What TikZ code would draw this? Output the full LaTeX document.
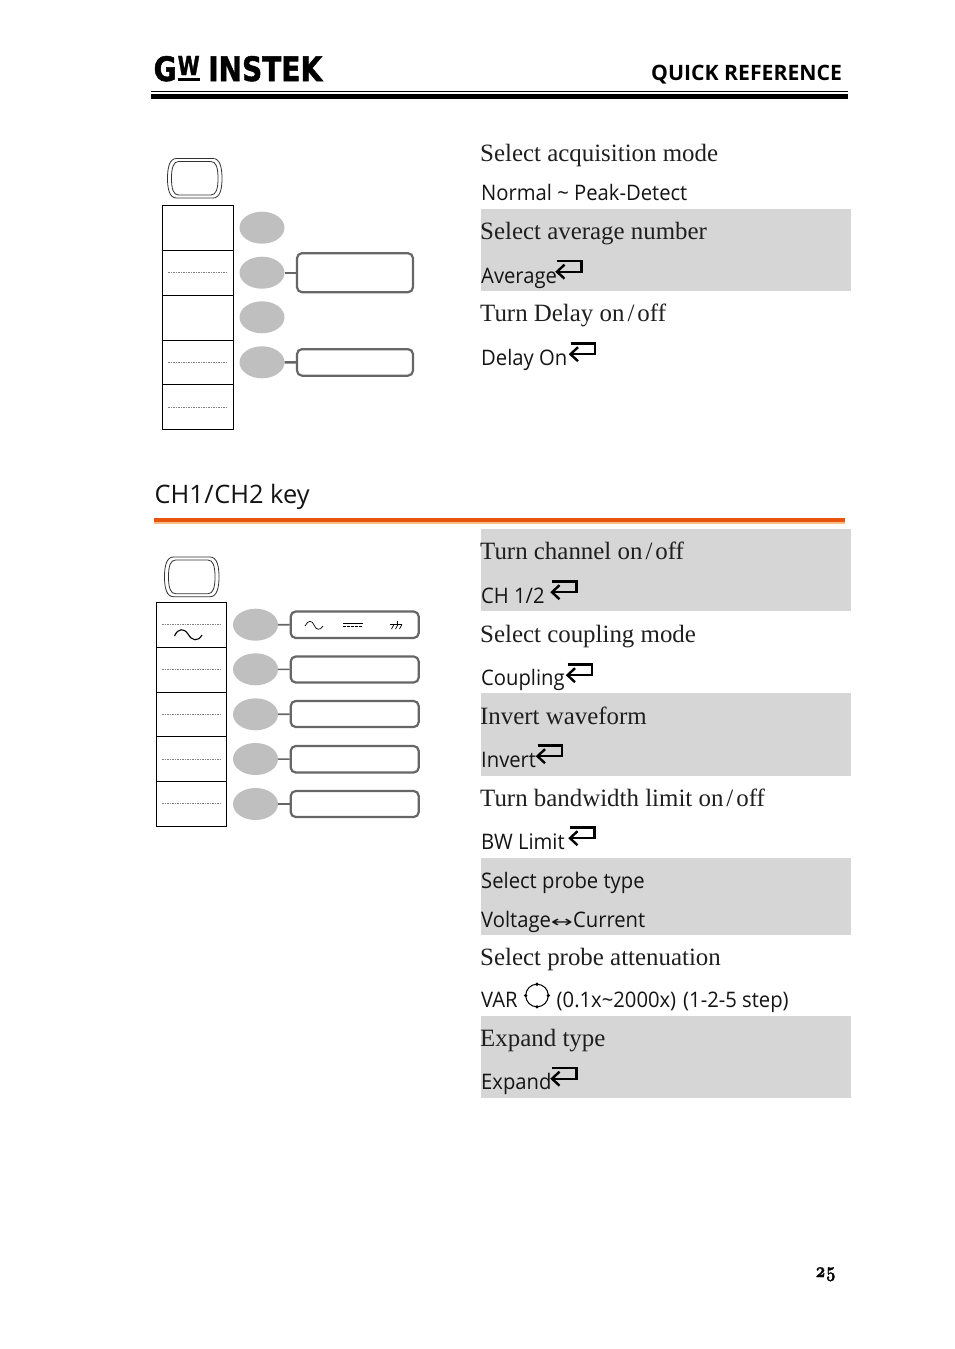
\documentclass[tikz,border=0pt]{standalone}
\usepackage{fontspec}
\usepackage{graphicx}
\setmainfont{Liberation Serif}
\newfontfamily\uisans{Open Sans}
\newfontfamily\uisansnarrow[FakeStretch=0.945]{Open Sans}
\newfontfamily\symfont{DejaVu Sans}
\newfontfamily\logofont[FakeBold=1.6]{DejaVu Sans Bold}
\newfontfamily\pagefont[Numbers=OldStyle,FakeStretch=0.8,FakeBold=1.2]{Latin Modern Roman}
\usetikzlibrary{arrows.meta,shapes.geometric}
\definecolor{band}{gray}{0.84}
\definecolor{keygray}{gray}{0.75}
\definecolor{boxgray}{gray}{0.40}
\definecolor{rulehot}{HTML}{E9540D}
\definecolor{rulepale}{HTML}{F9BC84}
\tikzset{
  x=1pt,y=-1pt,
  serifline/.style={anchor=base west,inner sep=0pt,font=\fontsize{24.9}{27}\selectfont,text=black!88},
  sansline/.style={anchor=base west,inner sep=0pt,font=\uisansnarrow\fontsize{21.4}{24}\selectfont,text=black!92},
  bandrect/.style={fill=band,draw=none},
  softkey/.style={ellipse,fill=keygray,draw=none,minimum width=45pt,minimum height=32pt,inner sep=0pt},
  menucell/.style={rectangle,draw=black,line width=1pt,minimum width=70.5pt,inner sep=0pt},
  optbox/.style={rectangle,rounded corners=5pt,draw=boxgray,line width=2.2pt,inner sep=0pt},
  link/.style={draw=boxgray,line width=1.6pt},
  rule/.style={draw=gray,line width=.7pt,dash pattern=on 1.5pt off 1pt},
  enterarrow/.style={line width=2.4pt,draw=black},
  keyoutline/.style={draw=black!80,line width=.8pt,fill=none}
}
\newcommand{\enterkey}[2]{%
  \draw[enterarrow,line join=miter] (#1+1,#2) -- (#1+25.5,#2) -- (#1+25.5,#2+10.7) -- (#1+1,#2+10.7);
  \draw[enterarrow,line join=miter] (#1+8.5,#2+3.7) -- (#1+1,#2+10.7) -- (#1+8.5,#2+17.7);
}
\newcommand{\frontkey}[4]{%
  \draw[keyoutline] (#1+9,#2) -- (#3-9,#2) .. controls (#3-2,#2) and (#3,#2+9) .. (#3,#2+20)
    .. controls (#3,#4-9) and (#3-2,#4) .. (#3-9,#4) -- (#1+9,#4)
    .. controls (#1+2,#4) and (#1,#4-9) .. (#1,#2+20) .. controls (#1,#2+9) and (#1+2,#2) .. (#1+9,#2) -- cycle;
  \draw[keyoutline] (#1+11,#2+3) -- (#3-11,#2+3) .. controls (#3-6,#2+3) and (#3-4,#2+9) .. (#3-4,#2+20)
    .. controls (#3-4,#4-9) and (#3-6,#4-3) .. (#3-11,#4-3) -- (#1+11,#4-3)
    .. controls (#1+6,#4-3) and (#1+4,#4-9) .. (#1+4,#2+20) .. controls (#1+4,#2+9) and (#1+6,#2+3) .. (#1+11,#2+3) -- cycle;
}
\newcommand{\onoff}{on\kern3pt/\kern3pt off}
\begin{document}
\begin{tikzpicture}
\useasboundingbox (0,0) rectangle (954,1349);
\fill[white] (0,0) rectangle (954,1349);

% header
\node[anchor=base west,inner sep=0pt] (logog) at (153.5,81) {\resizebox{23pt}{25pt}{\logofont G}};
\node[anchor=base west,inner sep=0pt] (logow) at (177.5,75) {\resizebox{22pt}{19pt}{\logofont W}};
\fill[black] (177.5,77.5) rectangle (199.5,81);
\node[anchor=base west,inner sep=0pt] (logob) at (208,81) {\resizebox{114pt}{25pt}{\logofont INSTEK}};
\node[anchor=base west,inner sep=0pt,font=\uisans\bfseries\fontsize{21.2}{24}\selectfont] (qr) at (651,80.5) {QUICK REFERENCE};
\fill[black] (151,90.6) rectangle (848,91.6);
\fill[black] (151,93.8) rectangle (848,99);

% bands
\fill[bandrect] (481,209) rectangle (851,291);
\fill[bandrect] (481,529) rectangle (851,611);
\fill[bandrect] (481,693) rectangle (851,776);
\fill[bandrect] (481,858) rectangle (851,935);
\fill[bandrect] (481,1016) rectangle (851,1098);

% upper panel
\frontkey{167.5}{158.5}{222}{198}
\foreach \n/\a/\b in {1/205.7/250.3,2/250.3/295.3,3/295.3/340.3,4/340.3/384.3,5/384.3/429.3}{
  \node[menucell,minimum height=\b pt-\a pt] (um\n) at (198,{(\a+\b)/2}) {};
}
\foreach \n/\y in {2/272.3,4/362.3,5/407.3}{ \draw[rule] (168,\y) -- (227,\y); }
\foreach \n/\y in {1/227.7,2/272.7,3/317.3,4/362.3}{ \node[softkey] (uk\n) at (262,\y) {}; }
\node[optbox,minimum width=116pt,minimum height=39pt] (ub2) at (355,272.7) {};
\node[optbox,minimum width=116pt,minimum height=26.5pt] (ub4) at (355,362.4) {};
\draw[link] (uk2) -- (ub2);
\draw[link,line width=2.4pt] (uk4) -- (ub4);

% section heading
\node[anchor=base west,inner sep=0pt,font=\uisans\fontsize{25.4}{28}\selectfont,text=black!92] (sec) at (154.5,503) {CH1\kern.5pt/\kern.5pt CH2 key};
\fill[rulepale] (154,521.5) rectangle (845,524);
\fill[rulehot] (154,518.3) rectangle (845,521.7);

% lower panel
\frontkey{164.5}{557}{219}{596.7}
\foreach \n/\a/\b in {1/602.3/647.3,2/647.3/692,3/692/736.6,4/736.6/781.3,5/781.3/826.3}{
  \node[menucell,minimum height=\b pt-\a pt] (lm\n) at (191.3,{(\a+\b)/2}) {};
}
\foreach \n/\y in {1/624.3,2/669.3,3/714.3,4/759.3,5/803.7}{ \draw[rule] (162,\y) -- (221,\y); }
\foreach \n/\y in {1/624.7,2/669.3,3/714.3,4/759,5/804}{ \node[softkey] (lk\n) at (255.5,\y) {}; }
\foreach \n/\a/\b in {1/611.5/638,2/656.5/682.5,3/701/727,4/746/772.5,5/791/817}{
  \node[optbox,minimum width=128pt,minimum height=\b pt-\a pt] (lb\n) at (354.7,{(\a+\b)/2}) {};
  \draw[link] (lk\n) -- (lb\n);
}
% waveform icons
\draw[line width=1.1pt] (174.5,636) .. controls (178,628) and (184,628) .. (188,634) .. controls (192,641) and (198,642) .. (202,635);
\draw[line width=.7pt] (305,626) .. controls (308,620) and (312,620) .. (314,625) .. controls (316,630) and (320,631) .. (323,626);
\draw[line width=1pt] (342.7,623.3) -- (362.7,623.3);
\draw[line width=1.2pt,dash pattern=on 3pt off 1pt] (342.7,626.3) -- (362.7,626.3);
\draw[line width=.7pt] (390,624.4) -- (402,624.4) (397,620.5) -- (397,624.4);
\draw[line width=.7pt] (394,624.4) -- (391.5,629) (398,624.4) -- (395.5,629) (402,624.4) -- (399.5,629);

% right column
\node[serifline] (t1) at (480,161) {Select acquisition mode};
\node[sansline] (t2) at (481,200) {Normal \textasciitilde{} Peak-Detect};
\node[serifline] (t3) at (480,239) {Select average number};
\node[sansline] (t4) at (481,283) {Average};
\enterkey{556}{261}
\node[serifline] (t5) at (480,321) {Turn Delay \onoff};
\node[sansline] (t6) at (481,365) {Delay On};
\enterkey{569.5}{343.5}
\node[serifline] (t7) at (480,559) {Turn channel \onoff};
\node[sansline] (t8) at (481,603) {CH 1/2};
\enterkey{551}{581.5}
\node[serifline] (t9) at (480,642) {Select coupling mode};
\node[sansline] (t10) at (481,685) {Coupling};
\enterkey{566.5}{664.5}
\node[serifline] (t11) at (480,724) {Invert waveform};
\node[sansline] (t12) at (481,767) {Invert};
\enterkey{536.5}{745.5}
\node[serifline] (t13) at (480,806) {Turn bandwidth limit \onoff};
\node[sansline] (t14) at (481,849) {BW Limit};
\enterkey{569}{827.5}
\node[sansline] (t15) at (481,888) {Select probe type};
\node[sansline] (t16) at (481,927) {Voltage{\symfont\fontsize{16}{20}\selectfont\scalebox{1.65}[1]{↔}}Current};
\node[serifline] (t17) at (480,965) {Select probe attenuation};
\node[sansline] (t18) at (481,1007) {VAR};
\draw[line width=1pt] (537,995.5) circle (11.3);
\foreach \a/\b in {537/984.2,537/1006.8,525.7/995.5,548.3/995.5}{ \fill (\a,\b) circle (1.8); }
\node[sansline] (t19) at (556.5,1007) {(0.1x\textasciitilde{}2000x)};
\node[sansline] (t20) at (683,1007) {(1-2-5 step)};
\node[serifline] (t21) at (480,1046) {Expand type};
\node[sansline] (t22) at (481,1089) {Expand};
\enterkey{551}{1068}

\node[anchor=base west,inner sep=0pt,font=\pagefont\bfseries\fontsize{21}{24}\selectfont] (pg) at (815,1277) {25};
\end{tikzpicture}
\end{document}
